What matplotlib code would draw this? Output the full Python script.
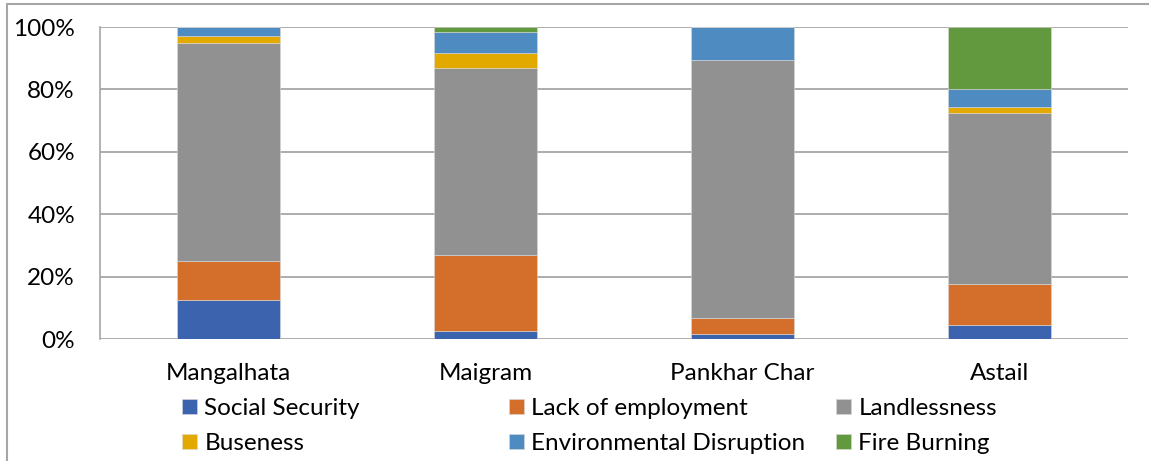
import matplotlib.pyplot as plt
from matplotlib.patches import Rectangle
from matplotlib.ticker import PercentFormatter

plt.rcParams['font.family'] = ['Lato', 'DejaVu Sans']

# villages and share of each cause (%)
villages = ["Mangalhata", "Maigram", "Pankhar Char", "Astail"]
social_security = [12.5, 2.5, 1.6, 4.5]
lack_of_employment = [12.5, 24.3, 5.0, 13.0]
landlessness = [70.0, 60.0, 82.9, 54.8]
buseness = [2.0, 5.0, 0.0, 2.1]
environmental = [3.0, 6.5, 10.5, 5.6]
fire_burning = [0.0, 1.7, 0.0, 20.0]

series = [
    ("Social Security", social_security, "#3C63AD"),
    ("Lack of employment", lack_of_employment, "#D36E2B"),
    ("Landlessness", landlessness, "#919191"),
    ("Buseness", buseness, "#E2AA00"),
    ("Environmental Disruption", environmental, "#4E8BC0"),
    ("Fire Burning", fire_burning, "#62993E"),
]

fig = plt.figure(figsize=(11.49, 4.61), dpi=100)
ax = fig.add_axes([100 / 1149, 1 - 339 / 461, 1028 / 1149, 312 / 461])

x = list(range(len(villages)))
bottom = [0.0] * len(villages)
handles = []
for name, vals, color in series:
    b = ax.bar(x, vals, width=0.4, bottom=bottom, color=color, label=name,
               edgecolor="#D9D9D9", linewidth=0.4, zorder=3)
    handles.append(b)
    bottom = [bo + v for bo, v in zip(bottom, vals)]

ax.set_xlim(-0.5, len(villages) - 0.5)
ax.set_ylim(0, 100)
ax.set_yticks(range(0, 101, 20))
ax.yaxis.set_major_formatter(PercentFormatter(decimals=0))
ax.set_xticks(x)
ax.set_xticklabels(villages)
ax.tick_params(axis='both', length=0, labelsize=17.5, colors="black")
ax.tick_params(axis='y', pad=18)
ax.tick_params(axis='x', pad=17)
ax.grid(axis='y', color="#A6A6A6", linewidth=1.3, zorder=0)
for s in ["top", "right", "bottom"]:
    ax.spines[s].set_visible(False)
ax.spines["left"].set_color("#A6A6A6")
ax.spines["left"].set_linewidth(1.2)

# Excel legend: 3 equal-width columns, rows filled left to right
col_x = [182, 509, 836]
for c in range(3):
    idx = [c, c + 3]
    leg = fig.legend([handles[i] for i in idx], [series[i][0] for i in idx],
                     loc="upper left", bbox_to_anchor=(col_x[c] / 1149, 1 - 398 / 461),
                     frameon=False, fontsize=17.5, handlelength=0.62, handleheight=0.62,
                     handletextpad=0.3, labelspacing=0.58,
                     borderpad=0, borderaxespad=0)

# outer chart frame (only top and left visible in the crop)
fig.patches.append(Rectangle((7 / 1149, -0.1), 1.2, 1 - 4 / 461 + 0.1,
                             transform=fig.transFigure, fill=False,
                             edgecolor="#A6A6A6", linewidth=1.5))

fig.savefig("out.png", dpi=100)
